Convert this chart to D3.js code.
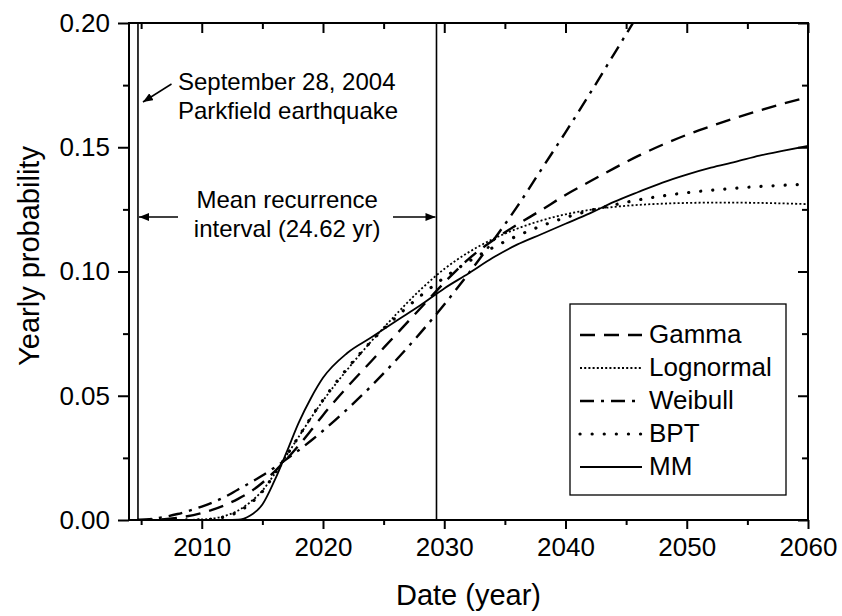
<!DOCTYPE html>
<html>
<head>
<meta charset="utf-8">
<script src="https://cdn.jsdelivr.net/npm/d3@7"></script>
<style>
body { margin: 0; background: #fff; }
text { font-family: "Liberation Sans", Arial, sans-serif; fill: #000; }
</style>
</head>
<body>
<div id="graphic"></div>
<script>
// values
var years = [2004.74, 2006, 2008, 2010, 2012, 2013, 2014, 2015, 2016, 2017, 2018, 2019, 2020,
	2022, 2024, 2026, 2028, 2030, 2032, 2034, 2036, 2038, 2040, 2042, 2044, 2046, 2048,
	2050, 2052, 2054, 2056, 2058, 2060];
var gamma = [0, 0.0001, 0.0009, 0.0028, 0.0062, 0.0085, 0.0113, 0.0150, 0.0195, 0.0245, 0.0300, 0.0360, 0.0422,
	0.0535, 0.0640, 0.0745, 0.0850, 0.0955, 0.1050, 0.1125, 0.1188, 0.1247, 0.1308, 0.1362, 0.1415, 0.1465, 0.1510,
	0.1550, 0.1585, 0.1618, 0.1648, 0.1676, 0.1702];
var lognormal = [0, 0, 0, 0.0002, 0.0018, 0.0038, 0.0072, 0.0118, 0.0185, 0.0260, 0.0335, 0.0410, 0.0480,
	0.0605, 0.0720, 0.0826, 0.0925, 0.1010, 0.1077, 0.1130, 0.1172, 0.1205, 0.1230, 0.1248, 0.1260, 0.1268, 0.1273,
	0.1276, 0.1277, 0.1277, 0.1276, 0.1274, 0.1271];
var weibull = [0, 0.0005, 0.0024, 0.0054, 0.0095, 0.0123, 0.0150, 0.0179, 0.0211, 0.0245, 0.0281, 0.0319, 0.0359,
	0.0446, 0.0540, 0.0642, 0.0751, 0.0867, 0.0992, 0.1122, 0.1260, 0.1410, 0.1560, 0.1715, 0.1875, 0.2035, null,
	null, null, null, null, null, null];
var bpt = [0, 0, 0, 0.0001, 0.0014, 0.0033, 0.0066, 0.0114, 0.0185, 0.0260, 0.0336, 0.0412, 0.0483,
	0.0610, 0.0720, 0.0815, 0.0900, 0.0975, 0.1040, 0.1096, 0.1143, 0.1183, 0.1217, 0.1245, 0.1268, 0.1288, 0.1304,
	0.1317, 0.1327, 0.1335, 0.1342, 0.1347, 0.1352];
var mm = [0, 0, 0, 0, 0, 0.0001, 0.0018, 0.0062, 0.0158, 0.0273, 0.0392, 0.0490, 0.0572,
	0.0672, 0.0735, 0.0800, 0.0863, 0.0932, 0.0992, 0.1055, 0.1108, 0.1150, 0.1192, 0.1234, 0.1280, 0.1320, 0.1358,
	0.1390, 0.1418, 0.1441, 0.1466, 0.1486, 0.1505];

var xMajor = [2010, 2020, 2030, 2040, 2050, 2060];
var xMinor = [2005, 2015, 2025, 2035, 2045, 2055];
var yMajor = [0, 0.05, 0.10, 0.15, 0.20];
var yMinor = [0.025, 0.075, 0.125, 0.175];

var quakeYear = 2004.74;
var meanRecurrence = 24.62;

var width = 842, height = 616;
var margin = {top: 23, right: 34, bottom: 96, left: 129};
var pw = width - margin.left - margin.right;
var ph = height - margin.top - margin.bottom;

var svg = d3.select("#graphic").append("svg")
	.attr("width", width)
	.attr("height", height);

var defs = svg.append("defs");
defs.append("clipPath").attr("id", "plotclip")
	.append("rect").attr("x", 0).attr("y", 0).attr("width", pw).attr("height", ph);
defs.append("marker")
	.attr("id", "arrow")
	.attr("viewBox", "0 0 10 8")
	.attr("refX", 10).attr("refY", 4)
	.attr("markerWidth", 10).attr("markerHeight", 8)
	.attr("markerUnits", "userSpaceOnUse")
	.attr("orient", "auto")
	.append("path").attr("d", "M0,0 L10,4 L0,8 Z").attr("fill", "#000");

var g = svg.append("g").attr("transform", "translate(" + margin.left + "," + margin.top + ")");

var x = d3.scaleLinear().domain([2004, 2060]).range([0, pw]);
var y = d3.scaleLinear().domain([0, 0.2]).range([ph, 0]);

var series = [
	{name: "Gamma", values: gamma, width: 2.4, dash: "15,9", cap: "butt"},
	{name: "Lognormal", values: lognormal, width: 1.8, dash: "2,2.2", cap: "butt"},
	{name: "Weibull", values: weibull, width: 2.4, dash: "14,7,3,7", cap: "butt"},
	{name: "BPT", values: bpt, width: 3.2, dash: "0.1,12", cap: "round"},
	{name: "MM", values: mm, width: 1.8, dash: null, cap: "butt"}
];

var line = d3.line()
	.defined(function(d) { return d[1] != null; })
	.x(function(d) { return x(d[0]); })
	.y(function(d) { return y(d[1]); })
	.curve(d3.curveMonotoneX);

var curves = g.append("g").attr("clip-path", "url(#plotclip)");
series.forEach(function(s) {
	var pts = years.map(function(yr, i) { return [yr, s.values[i]]; });
	curves.append("path")
		.attr("d", line(pts))
		.attr("fill", "none")
		.attr("stroke", "#000")
		.attr("stroke-width", s.width)
		.attr("stroke-dasharray", s.dash)
		.attr("stroke-linecap", s.cap);
});

// vertical reference lines
[quakeYear, quakeYear + meanRecurrence].forEach(function(v) {
	g.append("line")
		.attr("x1", x(v)).attr("x2", x(v))
		.attr("y1", y(0)).attr("y2", y(0.2))
		.attr("stroke", "#000").attr("stroke-width", 1.6);
});

// axes
function styleAxis(sel) {
	sel.select(".domain").remove();
	sel.selectAll(".tick line").attr("stroke", "#000").attr("stroke-width", 2);
	sel.selectAll("text").attr("font-size", 26).attr("fill", "#000")
		.attr("font-family", "Liberation Sans, Arial, sans-serif");
}

g.append("g").attr("transform", "translate(0," + ph + ")")
	.call(d3.axisBottom(x).tickValues(xMajor).tickSize(9).tickPadding(9).tickFormat(d3.format("d")))
	.call(styleAxis);
g.append("g").attr("transform", "translate(0," + ph + ")")
	.call(d3.axisBottom(x).tickValues(xMinor).tickSize(5).tickFormat(""))
	.call(styleAxis);
g.append("g")
	.call(d3.axisLeft(y).tickValues(yMajor).tickSize(11).tickPadding(8).tickFormat(d3.format(".2f")))
	.call(styleAxis);
g.append("g")
	.call(d3.axisLeft(y).tickValues(yMinor).tickSize(6).tickFormat(""))
	.call(styleAxis);
g.append("g")
	.call(d3.axisTop(x).tickValues(xMajor).tickSize(-10).tickFormat(""))
	.call(styleAxis);
g.append("g")
	.call(d3.axisTop(x).tickValues(xMinor).tickSize(-6).tickFormat(""))
	.call(styleAxis);
g.append("g").attr("transform", "translate(" + pw + ",0)")
	.call(d3.axisRight(y).tickValues(yMajor).tickSize(-10).tickFormat(""))
	.call(styleAxis);
g.append("g").attr("transform", "translate(" + pw + ",0)")
	.call(d3.axisRight(y).tickValues(yMinor).tickSize(-6).tickFormat(""))
	.call(styleAxis);

g.append("rect")
	.attr("x", 0).attr("y", 0).attr("width", pw).attr("height", ph)
	.attr("fill", "none").attr("stroke", "#000").attr("stroke-width", 2);

// axis titles
svg.append("text")
	.attr("x", margin.left + pw / 2).attr("y", 605)
	.attr("text-anchor", "middle").attr("font-size", 29)
	.text("Date (year)");
svg.append("text")
	.attr("transform", "translate(39,256) rotate(-90)")
	.attr("text-anchor", "middle").attr("font-size", 29)
	.text("Yearly probability");

// annotations
var ann = g.append("g").attr("font-size", 24);
ann.append("text").attr("x", 49).attr("y", 67).attr("font-size", 24).text("September 28, 2004");
ann.append("text").attr("x", 49).attr("y", 96).attr("font-size", 24).text("Parkfield earthquake");
ann.append("line")
	.attr("x1", 42.5).attr("y1", 61).attr("x2", x(quakeYear) + 5).attr("y2", 79)
	.attr("stroke", "#000").attr("stroke-width", 1.5).attr("marker-end", "url(#arrow)");

var midX = (x(quakeYear) + x(quakeYear + meanRecurrence)) / 2;
ann.append("text").attr("x", midX).attr("y", 185).attr("text-anchor", "middle").attr("font-size", 24).text("Mean recurrence");
ann.append("text").attr("x", midX).attr("y", 214).attr("text-anchor", "middle").attr("font-size", 24).text("interval (24.62 yr)");
ann.append("line")
	.attr("x1", 49).attr("y1", 194).attr("x2", x(quakeYear) + 1).attr("y2", 194)
	.attr("stroke", "#000").attr("stroke-width", 1.5).attr("marker-end", "url(#arrow)");
ann.append("line")
	.attr("x1", 264).attr("y1", 194).attr("x2", x(quakeYear + meanRecurrence) - 1).attr("y2", 194)
	.attr("stroke", "#000").attr("stroke-width", 1.5).attr("marker-end", "url(#arrow)");

// legend
var legend = g.append("g").attr("transform", "translate(441,281)");
legend.append("rect")
	.attr("width", 216).attr("height", 191)
	.attr("fill", "#fff").attr("stroke", "#000").attr("stroke-width", 1.3);
series.forEach(function(s, i) {
	var base = 39 + i * 33;
	legend.append("line")
		.attr("x1", 10).attr("x2", 72)
		.attr("y1", base - 8).attr("y2", base - 8)
		.attr("stroke", "#000")
		.attr("stroke-width", s.width)
		.attr("stroke-dasharray", s.dash)
		.attr("stroke-linecap", s.cap);
	legend.append("text")
		.attr("x", 79).attr("y", base)
		.attr("font-size", 26)
		.text(s.name);
});
</script>
</body>
</html>
